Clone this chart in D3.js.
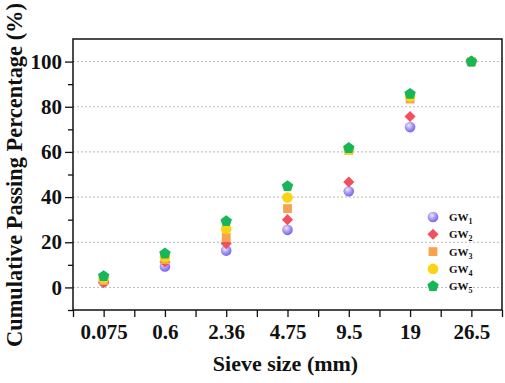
<!DOCTYPE html>
<html>
<head>
<meta charset="utf-8">
<script src="https://cdn.jsdelivr.net/npm/d3@7"></script>
<style>
  html, body { margin: 0; padding: 0; background: #fff; }
  svg { display: block; }
  text { font-family: "Liberation Serif", "Times New Roman", serif; font-weight: bold; }
</style>
</head>
<body>
<div class="sieve-plot"></div>
<script>
// sieve sizes (mm) and passing percentages
const sieves = ["0.075", "0.6", "2.36", "4.75", "9.5", "19", "26.5"];
const gw1 = [2.5, 9.3, 16.3, 25.5, 42.6, 71.0, 100];
const gw2 = [2.1, 11.3, 19.4, 30.0, 46.7, 75.7, 100];
const gw3 = [3.0, 12.3, 22.1, 34.9, 60.7, 83.4, 100];
const gw4 = [4.0, 13.5, 25.9, 39.8, 61.0, 84.5, 100];
const gw5 = [5.0, 15.0, 29.3, 44.8, 61.7, 85.7, 100];
const yTicks = [-10, 0, 10, 20, 30, 40, 50, 60, 70, 80, 90, 100];

const series = [
  {name: "GW", sub: "1", vals: gw1, shape: "sphere", color: "#8f7cf0"},
  {name: "GW", sub: "2", vals: gw2, shape: "diamond", color: "#f2505c"},
  {name: "GW", sub: "3", vals: gw3, shape: "square", color: "#f8a24f"},
  {name: "GW", sub: "4", vals: gw4, shape: "circle", color: "#fad317"},
  {name: "GW", sub: "5", vals: gw5, shape: "pentagon", color: "#17b659"}
];

const width = 505, height = 383;
const margin = {top: 39, right: 3, left: 73, bottom: 73};
const innerWidth = width - margin.left - margin.right;
const innerHeight = height - margin.top - margin.bottom;

const svg = d3.select('.sieve-plot').append('svg')
  .attr('width', width).attr('height', height)
  .attr('viewBox', `0 0 ${width} ${height}`);

const defs = svg.append('defs');
const grad = defs.append('radialGradient').attr('id', 'ball')
  .attr('cx', '40%').attr('cy', '35%').attr('r', '65%');
grad.append('stop').attr('offset', '0%').attr('stop-color', '#eeeaff');
grad.append('stop').attr('offset', '55%').attr('stop-color', '#a596f5');
grad.append('stop').attr('offset', '100%').attr('stop-color', '#7a64e6');

// index scale so minor ticks can sit half way between sieves
const xScale = d3.scaleLinear()
  .domain([-0.5, sieves.length - 0.5])
  .range([0, innerWidth]);

const yScale = d3.scaleLinear()
  .domain([-10, 110])
  .range([innerHeight, 0]);

const g = svg.append('g')
  .attr('transform', `translate(${margin.left},${margin.top})`);

// dotted grid
g.append('g').selectAll('line')
  .data(yTicks.filter(v => v >= 0 && v % 20 === 0))
  .join('line')
  .attr('x1', 0).attr('x2', innerWidth)
  .attr('y1', d => yScale(d)).attr('y2', d => yScale(d))
  .attr('stroke', '#b8b8b8').attr('stroke-width', 1)
  .attr('stroke-dasharray', '2,2');

// x axis
const xTickVals = d3.range(-0.5, sieves.length, 0.5);
const xAxis = g.append('g')
  .attr('transform', `translate(0,${innerHeight})`)
  .call(d3.axisBottom(xScale).tickValues(xTickVals).tickSize(7).tickPadding(7)
    .tickFormat(d => Number.isInteger(d) ? sieves[d] : ""));

// y axis
const yAxis = g.append('g')
  .call(d3.axisLeft(yScale).tickValues(yTicks).tickSize(7).tickPadding(4)
    .tickFormat(d => (d >= 0 && d % 20 === 0) ? d : ""));
yAxis.selectAll('.tick line').attr('x2', d => d % 20 === 0 ? -8 : -5);

[xAxis, yAxis].forEach(a => {
  a.attr('font-family', null).attr('font-size', 21);
  a.selectAll('line').attr('stroke', '#111').attr('stroke-width', 1.3);
  a.selectAll('text').attr('fill', '#111');
  a.select('.domain').remove();
  // minor ticks carry no label
  a.selectAll('.tick text').filter(function() { return this.textContent === ""; }).remove();
});

// frame
g.append('rect')
  .attr('width', innerWidth).attr('height', innerHeight)
  .attr('fill', 'none').attr('stroke', '#111').attr('stroke-width', 1.5);

function drawMarker(sel, shape, color) {
  if (shape === 'sphere') {
    sel.append('circle').attr('r', 5.3).attr('fill', 'url(#ball)');
  } else if (shape === 'circle') {
    sel.append('circle').attr('r', 5.3).attr('fill', color);
  } else if (shape === 'diamond') {
    sel.append('path').attr('d', d3.symbol(d3.symbolSquare, 62)())
      .attr('transform', 'rotate(45)').attr('fill', color);
  } else if (shape === 'square') {
    sel.append('path').attr('d', d3.symbol(d3.symbolSquare, 78)()).attr('fill', color);
  } else {
    const r = 6;
    const pts = d3.range(5).map(i => {
      const a = -Math.PI / 2 + i * 2 * Math.PI / 5;
      return [r * Math.cos(a), r * Math.sin(a)];
    });
    sel.append('path').attr('d', d3.line()(pts) + 'Z').attr('fill', color);
  }
}

// points
series.forEach(s => {
  g.append('g').selectAll('g')
    .data(s.vals)
    .join('g')
    .attr('transform', (d, i) => `translate(${xScale(i)},${yScale(d)})`)
    .each(function() { drawMarker(d3.select(this), s.shape, s.color); });
});

// legend
const legend = svg.append('g').attr('transform', 'translate(433,217)');
series.forEach((s, i) => {
  const row = legend.append('g').attr('transform', `translate(0,${i * 17.3})`);
  drawMarker(row, s.shape, s.color);
  const t = row.append('text').attr('x', 16).attr('y', 4)
    .attr('font-size', 11).attr('fill', '#111');
  t.append('tspan').text(s.name);
  t.append('tspan').attr('font-size', 8).attr('dy', 3).text(s.sub);
});

// axis titles
svg.append('text')
  .attr('x', margin.left + innerWidth / 2 - 2).attr('y', 371)
  .attr('text-anchor', 'middle').attr('font-size', 22).attr('fill', '#111')
  .text('Sieve size (mm)');

svg.append('text')
  .attr('transform', `translate(22,175) rotate(-90)`)
  .attr('text-anchor', 'middle').attr('font-size', 23).attr('fill', '#111')
  .attr('textLength', 344).attr('lengthAdjust', 'spacingAndGlyphs')
  .text('Cumulative Passing Percentage (%)');
</script>
</body>
</html>
